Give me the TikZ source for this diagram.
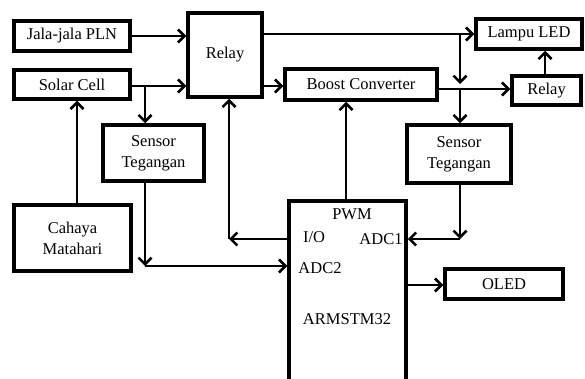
\documentclass[tikz,border=0pt]{standalone}
\usepackage{fontspec}
\setmainfont{Liberation Serif}
\usetikzlibrary{arrows.meta,calc}
\begin{document}
\begin{tikzpicture}[x=1pt,y=-1pt,
  blk/.style={draw, line width=3.5pt, rectangle, inner sep=0pt, font=\fontsize{16.5}{21}\selectfont, align=center},
  arr/.style={line width=2.5pt, -{Straight Barb[length=6.5pt,width=13pt]}},
  lbl/.style={font=\fontsize{16.5}{18}\selectfont, inner sep=0pt}]
\useasboundingbox (0,0) rectangle (585,379);
% blocks
\node[blk, minimum width=116pt, minimum height=30pt] (pln) at (72,36) {Jala-jala PLN};
\node[blk, minimum width=116pt, minimum height=29pt] (solar) at (72,84.5) {Solar Cell};
\node[blk, minimum width=74pt, minimum height=84pt] (relay) at (225,55) {Relay};
\node[blk, minimum width=101pt, minimum height=56pt] (senL) at (153.5,153) {Sensor\\Tegangan};
\node[blk, minimum width=117pt, minimum height=66pt] (cahaya) at (72.5,238) {Cahaya\\Matahari};
\node[blk, minimum width=152pt, minimum height=31pt] (boost) at (361,84.5) {Boost Converter};
\node[blk, minimum width=106pt, minimum height=30pt] (lampu) at (529,34) {Lampu LED};
\node[blk, minimum width=69pt, minimum height=29pt] (relay2) at (546.5,90.5) {Relay};
\node[blk, minimum width=104pt, minimum height=58pt] (senR) at (459,154) {Sensor\\Tegangan};
\node[blk, minimum width=118pt, minimum height=30pt] (oled) at (504,284) {OLED};
\node[blk, minimum width=117pt, minimum height=184pt] (arm) at (347.5,293) {};
% labels inside ARM
\node[lbl] (pwm) at (352,214) {PWM};
\node[lbl] (iol) at (314,237) {I/O};
\node[lbl] (adc1) at (381,239) {ADC1};
\node[lbl] (adc2) at (320,268) {ADC2};
\node[lbl] (armt) at (347,319) {ARMSTM32};
% helper coordinates
\coordinate (sb) at (145,86);
\coordinate (cx) at (77,0);
\coordinate (adc2c) at (145,266);
\coordinate (io) at (229,239);
\coordinate (pwmx) at (346,0);
\coordinate (jr) at (460,34);
\coordinate (jt) at (460,84);
\coordinate (jb) at (460,89);
\coordinate (lx) at (545,0);
\coordinate (adc1c) at (460,239);
\coordinate (oy) at (0,285);
% connectors
\draw[arr] (pln.east) -- (pln.east -| relay.west);
\draw[arr] (solar.east |- sb) -- (relay.west |- sb);
\draw[arr] (sb) -- (sb |- senL.north);
\draw[arr] (cahaya.north -| cx) -- (solar.south -| cx);
\draw[arr] (senL.south -| adc2c) -- (adc2c);
\draw[arr] (adc2c) -- (arm.west |- adc2c);
\draw[arr] (arm.west |- io) -- (io);
\draw[arr] (io) -- (relay.south -| io);
\draw[arr] (arm.north -| pwmx) -- (boost.south -| pwmx);
\draw[arr] (relay.east |- sb) -- (boost.west |- sb);
\draw[arr] (relay.east |- jr) -- (lampu.west |- jr);
\draw[arr] (jr) -- (jt);
\draw[arr] (boost.east |- jb) -- (relay2.west |- jb);
\draw[arr] (jb) -- (jb |- senR.north);
\draw[arr] (relay2.north -| lx) -- (lampu.south -| lx);
\draw[arr] (senR.south -| adc1c) -- (adc1c);
\draw[arr] (adc1c) -- (arm.east |- adc1c);
\draw[arr] (arm.east |- oy) -- (oled.west |- oy);
\end{tikzpicture}
\end{document}
